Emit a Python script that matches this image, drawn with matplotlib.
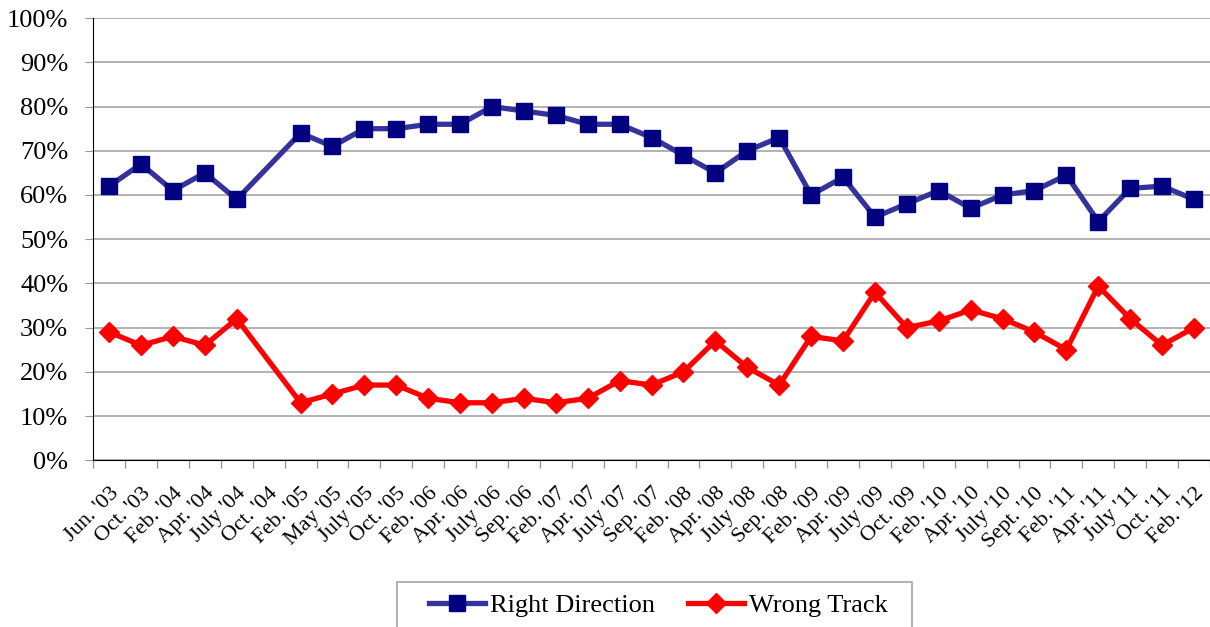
import numpy as np
import matplotlib
matplotlib.use("Agg")
import matplotlib.pyplot as plt
from matplotlib.patches import Rectangle

plt.rcParams['font.family'] = ['Liberation Serif', 'DejaVu Serif']

labels = ["Jun. '03", "Oct. '03", "Feb. '04", "Apr. '04", "July '04", "Oct. '04",
          "Feb. '05", "May '05", "July '05", "Oct. '05", "Feb. '06", "Apr. '06",
          "July '06", "Sep. '06", "Feb. '07", "Apr. '07", "July '07", "Sep. '07",
          "Feb. '08", "Apr. '08", "July '08", "Sep. '08", "Feb. '09", "Apr. '09",
          "July '09", "Oct. '09", "Feb. '10", "Apr. '10", "July '10", "Sept. '10",
          "Feb. '11", "Apr. '11", "July '11", "Oct. '11", "Feb. '12"]

right_direction = [62, 67, 61, 65, 59, None, 74, 71, 75, 75, 76, 76,
                   80, 79, 78, 76, 76, 73, 69, 65, 70, 73, 60, 64,
                   55, 58, 61, 57, 60, 61, 64.5, 54, 61.5, 62, 59]
wrong_track = [29, 26, 28, 26, 32, None, 13, 15, 17, 17, 14, 13,
               13, 14, 13, 14, 18, 17, 20, 27, 21, 17, 28, 27,
               38, 30, 31.5, 34, 32, 29, 25, 39.4, 32, 26, 30]

x = np.arange(len(labels))
rd = np.array([np.nan if v is None else v for v in right_direction], dtype=float)
wt = np.array([np.nan if v is None else v for v in wrong_track], dtype=float)
mr = ~np.isnan(rd)
mw = ~np.isnan(wt)

fig = plt.figure(figsize=(12.1, 6.27), dpi=100)
ax = fig.add_axes([0.077, 0.266, 0.923, 0.705])

ax.plot(x[mr], rd[mr], color='#333399', lw=3.8, marker='s', markersize=12,
        markerfacecolor='#000080', markeredgecolor='#000080', label='Right Direction')
ax.plot(x[mw], wt[mw], color='#FF0000', lw=3.8, marker='D', markersize=10.5,
        markerfacecolor='#FF0000', markeredgecolor='#FF0000', label='Wrong Track')

ax.set_xlim(-0.5, len(labels) - 0.5)
ax.set_ylim(0, 100)
ax.set_yticks(np.arange(0, 101, 10))
ax.set_yticklabels([f"{v}%" for v in range(0, 101, 10)], fontsize=19)
ax.yaxis.grid(True, color='#A6A6A6', lw=1.2)
ax.set_axisbelow(True)

ax.set_xticks(x)
ax.set_xticklabels(labels, rotation=45, ha='right', rotation_mode='anchor', fontsize=16)
ax.set_xticks(np.arange(-0.5, len(labels), 1), minor=True)
ax.tick_params(axis='x', which='major', length=0, pad=17)
ax.tick_params(axis='x', which='minor', length=6, color='#999999', width=1)
ax.tick_params(axis='y', length=6, color='#999999', pad=12)

for s in ['top', 'right']:
    ax.spines[s].set_visible(False)
ax.spines['left'].set_color('black')
ax.spines['bottom'].set_color('black')

# legend box runs off the bottom edge, like the original
fig.patches.append(Rectangle((397 / 1210, -0.02), 515 / 1210, 45 / 627 + 0.02,
                             transform=fig.transFigure, facecolor='white',
                             edgecolor='#A6A6A6', lw=1.2, zorder=0))
fig.legend(*ax.get_legend_handles_labels(), loc='center', bbox_to_anchor=(0.5442, 0.035),
           ncol=2, fontsize=19, frameon=False, handlelength=2.1, handletextpad=0.2,
           columnspacing=1.25, borderpad=0, borderaxespad=0)

fig.savefig('out.png', dpi=100)
